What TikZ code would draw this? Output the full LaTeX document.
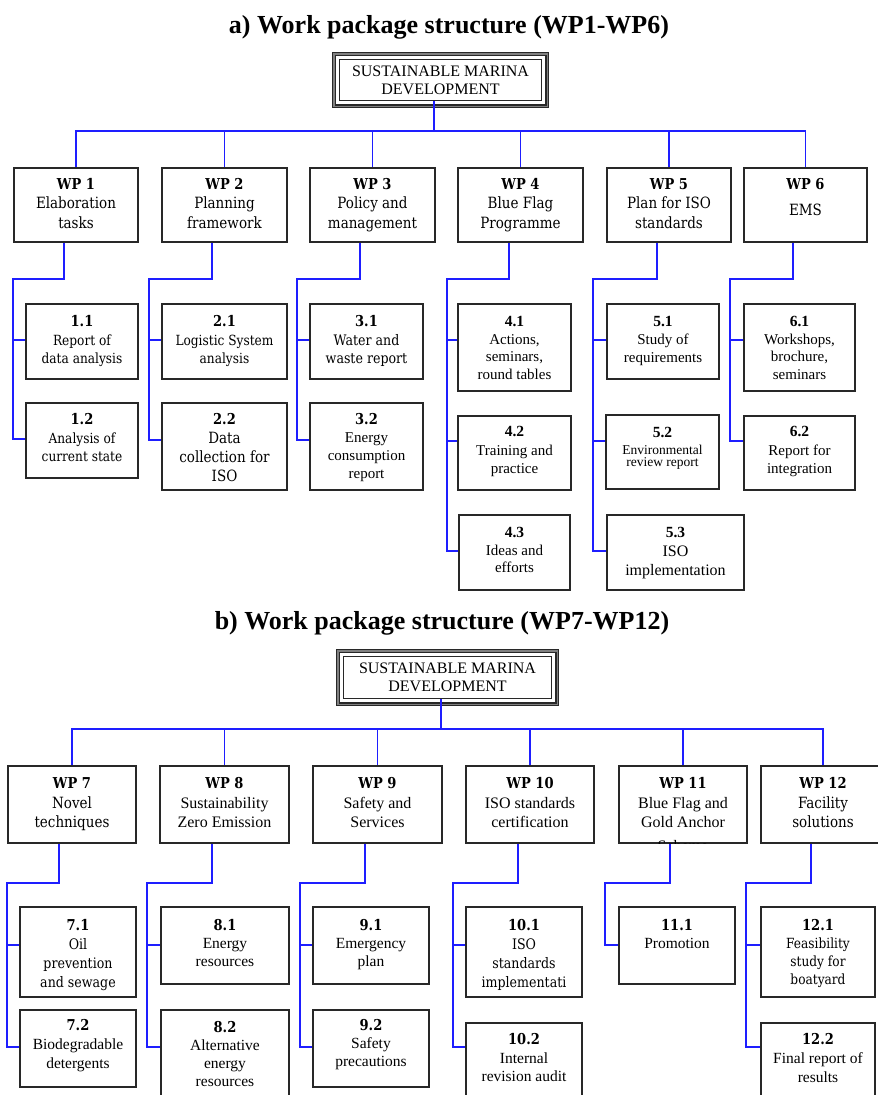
\documentclass[tikz,border=0pt]{standalone}
\usepackage{fontspec}
\setmainfont{Liberation Serif}
\newfontfamily\cam[FakeStretch=0.87]{DejaVu Serif}
\definecolor{cblue}{RGB}{30,30,255}
\definecolor{bgray}{RGB}{40,40,40}
\newcommand\bt[4]{\parbox[c][#2][t]{#1}{\centering\rule{0pt}{#3}#4\par}}
\newcommand\numA[1]{{\cam\bfseries\fontsize{15}{15}\selectfont #1}}
\newcommand\numT[1]{{\bfseries\fontsize{15.5}{15}\selectfont #1}}
\newcommand\fC[2]{\cam\fontsize{#1}{#2}\selectfont}
\newcommand\fT[2]{\fontsize{#1}{#2}\selectfont}
\tikzset{
  box/.style={draw=bgray, line width=1.3pt, fill=white, inner sep=0pt},
  conn/.style={draw=cblue, line width=1.8pt},
  rootbox/.style={draw=bgray, line width=1.2pt, fill=white, inner sep=0pt, align=center,
    font=\fT{16}{18}},
  title/.style={font=\bfseries\fontsize{26}{30}\selectfont, anchor=base, inner sep=0pt},
}
\begin{document}
\begin{tikzpicture}[x=1pt,y=-1pt]
\useasboundingbox (0,0) rectangle (878,1095);
\fill[white] (0,0) rectangle (878,1095);

% ================= PART A =================
\node[title] (ta) at (449,33) {a) Work package structure (WP1-WP6)};
\node[rootbox, minimum width=202pt, minimum height=41pt] (ra) at (440.5,80) {SUSTAINABLE MARINA\\DEVELOPMENT};
\draw[line width=2.4pt, black!50] ([shift={(-5pt,5pt)}]ra.north west) rectangle ([shift={(5pt,-5pt)}]ra.south east);
\draw[line width=1.2pt, bgray] ([shift={(-3.8pt,3.8pt)}]ra.north west) rectangle ([shift={(3.8pt,-3.8pt)}]ra.south east);
\draw[line width=1.4pt, bgray] ([shift={(-6.6pt,6.6pt)}]ra.north west) rectangle ([shift={(6.6pt,-6.6pt)}]ra.south east);

\node[box, font=\fC{15.5}{19.5}] (wa1) at (76,205) {\bt{124pt}{74pt}{21pt}{\numA{WP 1}\\Elaboration\\tasks}};
\node[box, font=\fC{15.5}{19.5}] (wa2) at (224.5,205) {\bt{125pt}{74pt}{21pt}{\numA{WP 2}\\Planning\\framework}};
\node[box, font=\fC{15.5}{19.5}] (wa3) at (372.5,205) {\bt{125pt}{74pt}{21pt}{\numA{WP 3}\\Policy and\\management}};
\node[box, font=\fC{15.5}{19.5}] (wa4) at (520.5,205) {\bt{125pt}{74pt}{21pt}{\numA{WP 4}\\Blue Flag\\Programme}};
\node[box, font=\fC{15.5}{19.5}] (wa5) at (669,205) {\bt{124pt}{74pt}{21pt}{\numA{WP 5}\\Plan for ISO\\standards}};
\node[box, font=\fC{15.5}{19.5}] (wa6) at (805.5,205) {\bt{123pt}{74pt}{21pt}{\numA{WP 6}\\[7pt]EMS}};

\foreach \n in {wa1,wa2,wa3,wa4,wa5,wa6}
  \draw[conn] ([xshift=-6.5pt]ra.south) -- ++(0,29.5) -| (\n.north);

% sub boxes A
\node[box, font=\fC{14}{18.5}] (s11) at (82,341.5) {\bt{112pt}{75pt}{22.5pt}{\numA{1.1}\\Report of\\data analysis}};
\node[box, font=\fC{14}{18.5}] (s12) at (82,440.5) {\bt{112pt}{75pt}{21.5pt}{\numA{1.2}\\Analysis of\\current state}};
\node[box, font=\fC{14}{18.5}] (s21) at (224.5,341.5) {\bt{125pt}{75pt}{22.5pt}{\numA{2.1}\\Logistic System\\analysis}};
\node[box, font=\fC{15.5}{19}] (s22) at (224.5,446.5) {\bt{125pt}{87pt}{21.5pt}{\numA{2.2}\\Data\\collection for\\ISO}};
\node[box, font=\fC{14.5}{18.5}] (s31) at (366.5,341.5) {\bt{113pt}{75pt}{22.5pt}{\numA{3.1}\\Water and\\waste report}};
\node[box, font=\fT{15}{18}] (s32) at (366.5,446.5) {\bt{113pt}{87pt}{21.5pt}{\numA{3.2}\\Energy\\consumption\\report}};
\node[box, font=\fT{15}{17.5}] (s41) at (514.5,347.5) {\bt{113pt}{87pt}{22.5pt}{\numT{4.1}\\Actions,\\seminars,\\round tables}};
\node[box, font=\fT{15}{18.5}] (s42) at (514.5,453) {\bt{113pt}{74pt}{20.5pt}{\numT{4.2}\\Training and\\practice}};
\node[box, font=\fT{15}{17.5}] (s43) at (514.5,552.5) {\bt{111pt}{75pt}{22.5pt}{\numT{4.3}\\Ideas and\\efforts}};
\node[box, font=\fT{15}{18}] (s51) at (663,341.5) {\bt{112pt}{75pt}{22.5pt}{\numT{5.1}\\Study of\\requirements}};
\node[box, font=\fT{13.5}{12.5}] (s52) at (662.5,452) {\bt{113pt}{74pt}{22.5pt}{\numT{5.2}\\[4pt]Environmental\\review report}};
\node[box, font=\fT{16}{19}] (s53) at (675.5,552.5) {\bt{137pt}{75pt}{22.5pt}{\numT{5.3}\\ISO\\implementation}};
\node[box, font=\fT{15}{17.5}] (s61) at (799.5,347.5) {\bt{111pt}{87pt}{22.5pt}{\numT{6.1}\\Workshops,\\brochure,\\seminars}};
\node[box, font=\fT{15}{18.5}] (s62) at (799.5,453) {\bt{111pt}{74pt}{20.5pt}{\numT{6.2}\\Report for\\integration}};

% connectors A
\draw[conn] ([xshift=-12pt]wa1.south) -- ++(0,36) -| ([xshift=-12pt,yshift=-37pt]s12.north west) -- ([yshift=-37pt]s12.north west);
\draw[conn] ([xshift=-12pt,yshift=-37pt]s11.north west) -- ([yshift=-37pt]s11.north west);
\draw[conn] ([xshift=-12.5pt]wa2.south) -- ++(0,36) -| ([xshift=-12pt,yshift=-38pt]s22.north west) -- ([yshift=-38pt]s22.north west);
\draw[conn] ([xshift=-12pt,yshift=-37pt]s21.north west) -- ([yshift=-37pt]s21.north west);
\draw[conn] ([xshift=-12.5pt]wa3.south) -- ++(0,36) -| ([xshift=-12pt,yshift=-38pt]s32.north west) -- ([yshift=-38pt]s32.north west);
\draw[conn] ([xshift=-12pt,yshift=-37pt]s31.north west) -- ([yshift=-37pt]s31.north west);
\draw[conn] ([xshift=-11.5pt]wa4.south) -- ++(0,36) -| ([xshift=-11pt,yshift=-37pt]s43.north west) -- ([yshift=-37pt]s43.north west);
\draw[conn] ([xshift=-11pt,yshift=-37pt]s41.north west) -- ([yshift=-37pt]s41.north west);
\draw[conn] ([xshift=-11pt,yshift=-26pt]s42.north west) -- ([yshift=-26pt]s42.north west);
\draw[conn] ([xshift=-12pt]wa5.south) -- ++(0,36) -| ([xshift=-13pt,yshift=-37pt]s53.north west) -- ([yshift=-37pt]s53.north west);
\draw[conn] ([xshift=-13pt,yshift=-37pt]s51.north west) -- ([yshift=-37pt]s51.north west);
\draw[conn] ([xshift=-13pt,yshift=-27pt]s52.north west) -- ([yshift=-27pt]s52.north west);
\draw[conn] ([xshift=-12.5pt]wa6.south) -- ++(0,36) -| ([xshift=-13pt,yshift=-26pt]s62.north west) -- ([yshift=-26pt]s62.north west);
\draw[conn] ([xshift=-13pt,yshift=-37pt]s61.north west) -- ([yshift=-37pt]s61.north west);

% ================= PART B =================
\node[title] (tb) at (442,629) {b) Work package structure (WP7-WP12)};
\node[rootbox, minimum width=208pt, minimum height=42pt] (rb) at (447.5,677.5) {SUSTAINABLE MARINA\\DEVELOPMENT};
\draw[line width=2.4pt, black!50] ([shift={(-5pt,5pt)}]rb.north west) rectangle ([shift={(5pt,-5pt)}]rb.south east);
\draw[line width=1.2pt, bgray] ([shift={(-3.8pt,3.8pt)}]rb.north west) rectangle ([shift={(3.8pt,-3.8pt)}]rb.south east);
\draw[line width=1.4pt, bgray] ([shift={(-6.6pt,6.6pt)}]rb.north west) rectangle ([shift={(6.6pt,-6.6pt)}]rb.south east);

\node[box, font=\fC{15.5}{19.5}] (wb7) at (72,804.5) {\bt{128pt}{77pt}{22.5pt}{\numA{WP 7}\\Novel\\techniques}};
\node[box, font=\fT{16}{19.5}] (wb8) at (224.5,804.5) {\bt{129pt}{77pt}{22.5pt}{\numA{WP 8}\\Sustainability\\Zero Emission}};
\node[box, font=\fT{16}{19.5}] (wb9) at (377.5,804.5) {\bt{129pt}{77pt}{22.5pt}{\numA{WP 9}\\Safety and\\Services}};
\node[box, font=\fT{16}{19.5}] (wb10) at (530,804.5) {\bt{128pt}{77pt}{22.5pt}{\numA{WP 10}\\ISO standards\\certification}};
\begin{scope}
\clip (600,750) rectangle (760,843.7);
\node[box, font=\fT{16}{19.5}] (wb11) at (683,804.5) {\bt{128pt}{77pt}{22.5pt}{\numA{WP 11}\\Blue Flag and\\Gold Anchor\\[4pt]Scheme}};
\end{scope}
\node[box, font=\fC{15.5}{19.5}] (wb12) at (823,804.5) {\bt{124pt}{77pt}{22.5pt}{\numA{WP 12}\\Facility\\solutions}};

\foreach \n in {wb7,wb8,wb9,wb10,wb11,wb12}
  \draw[conn] ([xshift=-6.5pt]rb.south) -- ++(0,29.5) -| (\n.north);

% sub boxes B
\node[box, font=\fC{14.5}{19}] (t71) at (78,952) {\bt{116pt}{90pt}{23.5pt}{\numA{7.1}\\Oil\\prevention\\and sewage}};
\node[box, font=\fT{15.5}{19}] (t72) at (78,1048.5) {\bt{116pt}{77pt}{20.5pt}{\numA{7.2}\\Biodegradable\\detergents}};
\node[box, font=\fT{15.5}{18}] (t81) at (225,945.5) {\bt{128pt}{77pt}{23.5pt}{\numA{8.1}\\Energy\\resources}};
\node[box, font=\fT{15.5}{18}] (t82) at (225,1057.5) {\bt{128pt}{95pt}{22.5pt}{\numA{8.2}\\Alternative\\energy\\resources}};
\node[box, font=\fT{15.5}{18}] (t91) at (371,945.5) {\bt{116pt}{77pt}{23.5pt}{\numA{9.1}\\Emergency\\plan}};
\node[box, font=\fT{15.5}{18}] (t92) at (371,1048.5) {\bt{116pt}{77pt}{20.5pt}{\numA{9.2}\\Safety\\precautions}};
\node[box, font=\fC{14.5}{19}] (t101) at (524,952) {\bt{116pt}{90pt}{23.5pt}{\numA{10.1}\\ISO\\standards\\implementati}};
\node[box, font=\fT{15.5}{18.5}] (t102) at (524,1064) {\bt{116pt}{82pt}{21.5pt}{\numA{10.2}\\Internal\\revision audit}};
\node[box, font=\fT{15.5}{18}] (t111) at (677,945.5) {\bt{116pt}{77pt}{23.5pt}{\numA{11.1}\\Promotion}};
\node[box, font=\fC{14}{18}] (t121) at (818,952) {\bt{114pt}{90pt}{23.5pt}{\numA{12.1}\\Feasibility\\study for\\boatyard}};
\node[box, font=\fT{15.5}{19}] (t122) at (818,1064) {\bt{114pt}{82pt}{21.5pt}{\numA{12.2}\\Final report of\\results}};

% connectors B
\draw[conn] ([xshift=-13pt]wb7.south) -- ++(0,39) -| ([xshift=-12pt,yshift=-38pt]t72.north west) -- ([yshift=-38pt]t72.north west);
\draw[conn] ([xshift=-12pt,yshift=-39pt]t71.north west) -- ([yshift=-39pt]t71.north west);
\draw[conn] ([xshift=-12.5pt]wb8.south) -- ++(0,39) -| ([xshift=-13pt,yshift=-38pt]t82.north west) -- ([yshift=-38pt]t82.north west);
\draw[conn] ([xshift=-13pt,yshift=-39pt]t81.north west) -- ([yshift=-39pt]t81.north west);
\draw[conn] ([xshift=-12.5pt]wb9.south) -- ++(0,39) -| ([xshift=-12pt,yshift=-38pt]t92.north west) -- ([yshift=-38pt]t92.north west);
\draw[conn] ([xshift=-12pt,yshift=-39pt]t91.north west) -- ([yshift=-39pt]t91.north west);
\draw[conn] ([xshift=-12pt]wb10.south) -- ++(0,39) -| ([xshift=-12pt,yshift=-25pt]t102.north west) -- ([yshift=-25pt]t102.north west);
\draw[conn] ([xshift=-12pt,yshift=-39pt]t101.north west) -- ([yshift=-39pt]t101.north west);
\draw[conn] ([xshift=-13pt]wb11.south) -- ++(0,39) -| ([xshift=-13pt,yshift=-39pt]t111.north west) -- ([yshift=-39pt]t111.north west);
\draw[conn] ([xshift=-12pt]wb12.south) -- ++(0,39) -| ([xshift=-14pt,yshift=-25pt]t122.north west) -- ([yshift=-25pt]t122.north west);
\draw[conn] ([xshift=-14pt,yshift=-39pt]t121.north west) -- ([yshift=-39pt]t121.north west);
\end{tikzpicture}
\end{document}
